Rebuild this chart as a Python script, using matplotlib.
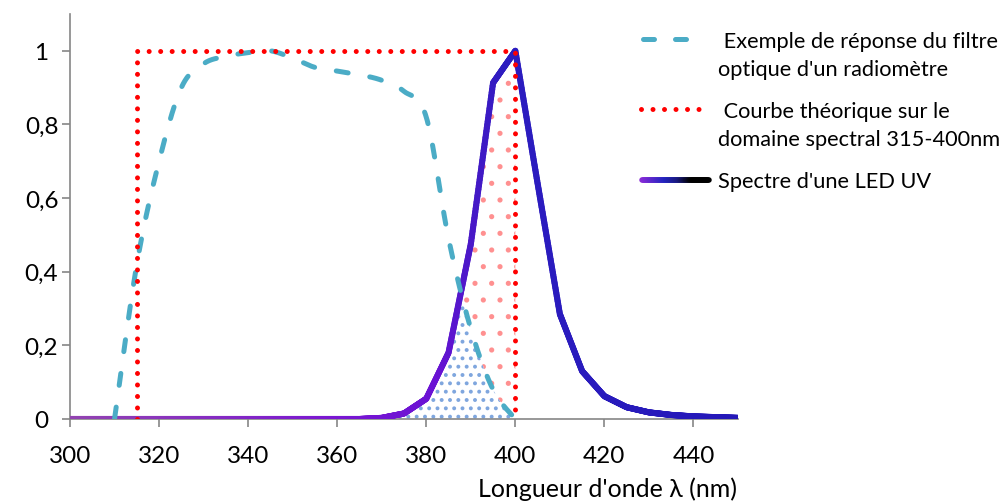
import numpy as np
import matplotlib
matplotlib.use("Agg")
import matplotlib.pyplot as plt
from matplotlib.collections import LineCollection
from matplotlib.colors import LinearSegmentedColormap
from matplotlib.lines import Line2D

plt.rcParams['font.family'] = ['Lato', 'DejaVu Sans']
plt.rcParams['hatch.linewidth'] = 1.6

# Radiometer filter response (nm, relative response)
filter_nm = [310, 315, 320, 325, 330, 335, 340, 345, 350, 355, 360, 365,
             370, 375, 380, 385, 390, 395, 400]
filter_resp = [0.0, 0.42, 0.70, 0.90, 0.965, 0.985, 0.995, 1.0, 0.98, 0.955,
               0.945, 0.935, 0.92, 0.89, 0.82, 0.49, 0.245, 0.08, 0.0]

# Ideal response over the 315-400 nm band
theory_nm = [315, 315, 400, 400]
theory_resp = [0, 1, 1, 0]

# UV LED emission spectrum
led_nm = [300, 305, 310, 315, 320, 325, 330, 335, 340, 345, 350, 355, 360,
          365, 370, 375, 380, 385, 390, 395, 400, 405, 410, 415, 420, 425,
          430, 435, 440, 445, 450]
led_resp = [0, 0, 0, 0, 0, 0, 0, 0, 0, 0, 0, 0, 0,
            0, 0.003, 0.015, 0.055, 0.18, 0.475, 0.913, 1.0, 0.64, 0.285,
            0.13, 0.062, 0.032, 0.018, 0.011, 0.007, 0.005, 0.003]

x_ticks = [300, 320, 340, 360, 380, 400, 420, 440]
y_ticks = [0, 0.2, 0.4, 0.6, 0.8, 1.0]
y_tick_labels = ['0', '0,2', '0,4', '0,6', '0,8', '1']

legend_lines = [[" Exemple de réponse du filtre", "optique d'un radiomètre"],
                [" Courbe théorique sur le", "domaine spectral 315-400nm"],
                ["Spectre d'une LED UV"]]
x_label = "Longueur d'onde λ (nm)"

FILTER_COLOR = '#4BACC6'
THEORY_COLOR = '#FF0000'
AXIS_COLOR = '#868686'


def smooth_curve(xs, ys, steps=24):
    """Cubic Bezier smoothing through the points (spreadsheet-style)."""
    p = np.column_stack([xs, ys]).astype(float)
    n = len(p)
    out = [p[0]]
    t = np.linspace(0, 1, steps + 1)[1:, None]
    for i in range(n - 1):
        p0 = p[i - 1] if i > 0 else p[i]
        p3 = p[i + 2] if i + 2 < n else p[i + 1]
        c1 = p[i] + (p[i + 1] - p0) / 6.0
        c2 = p[i + 1] - (p3 - p[i]) / 6.0
        seg = ((1 - t) ** 3) * p[i] + 3 * ((1 - t) ** 2) * t * c1 \
            + 3 * (1 - t) * t ** 2 * c2 + t ** 3 * p[i + 1]
        out.extend(seg)
    out = np.array(out)
    return out[:, 0], out[:, 1]


W, H = 1005, 502
fig = plt.figure(figsize=(W / 100, H / 100), dpi=100)
ax = fig.add_axes([70 / W, 1 - 420 / H, 668 / W, 405 / H])
ax.set_xlim(300, 450)
ax.set_ylim(0, 1.1)

# Smoothed filter curve
fx, fy = smooth_curve(filter_nm, filter_resp)
fy = np.clip(fy, 0, None)

# Hatched overlap areas
xs = np.linspace(370, 400, 400)
f_on = np.interp(xs, fx, fy)
l_on = np.interp(xs, led_nm, led_resp)
ax.fill_between(xs, 0, np.minimum(f_on, l_on), facecolor='none',
                edgecolor='#7FA6DE', linewidth=0, hatch='..', zorder=1)
with plt.rc_context({'hatch.linewidth': 1.3}):
    ax.fill_between(xs, f_on, l_on, where=l_on > f_on, interpolate=True,
                    facecolor='none', edgecolor='#FF9090', linewidth=0,
                    hatch='.', zorder=1)

# LED spectrum with a violet-to-blue colour ramp
led_cmap = LinearSegmentedColormap.from_list(
    'led', [(0.0, '#9244B0'), (0.4, '#7A16D2'), (0.55, '#6A12D4'),
            (0.6, '#4A18C8'), (0.65, '#2C1CC0'), (1.0, '#2418B8')])
lx = np.linspace(300, 450, 1501)
ly = np.interp(lx, led_nm, led_resp)
pts = np.column_stack([lx, ly]).reshape(-1, 1, 2)
segs = np.concatenate([pts[:-1], pts[1:]], axis=1)
lc = LineCollection(segs, cmap=led_cmap, linewidths=4.4, capstyle='round',
                    joinstyle='round', zorder=3)
lc.set_array((lx[:-1] - 300) / 150)
lc.set_clim(0, 1)
ax.add_collection(lc)

ax.plot(fx, fy, color=FILTER_COLOR, lw=3.6, linestyle=(0, (2.4, 4.4)),
        dash_capstyle='round', zorder=4)
ax.plot(theory_nm, theory_resp, color=THEORY_COLOR, lw=3.6,
        linestyle=(0, (0.001, 2.3)), dash_capstyle='round', zorder=5)

# Axes styling
for side in ('top', 'right'):
    ax.spines[side].set_visible(False)
for side in ('left', 'bottom'):
    ax.spines[side].set_color(AXIS_COLOR)
    ax.spines[side].set_linewidth(1.2)
ax.set_xticks(x_ticks)
ax.set_yticks(y_ticks)
ax.set_yticklabels(y_tick_labels)
ax.tick_params(axis='both', direction='out', length=5.5, width=1.2,
               color=AXIS_COLOR, labelsize=17.5, labelcolor='black')
ax.tick_params(axis='x', pad=13)
ax.tick_params(axis='y', pad=15)
for lbl in ax.get_yticklabels():
    lbl.set_horizontalalignment('center')

fig.text(737 / W, 1 - 497 / H, x_label, ha='right', va='baseline',
         fontsize=18)


# Legend drawn in figure pixels
def fx_(px):
    return px / W


def fy_(py):
    return 1 - py / H


fig.add_artist(Line2D([fx_(643), fx_(697)], [fy_(40), fy_(40)],
                      color=FILTER_COLOR, lw=3.6, linestyle=(0, (2.2, 4.2)),
                      dash_capstyle='round'))
fig.add_artist(Line2D([fx_(641), fx_(702)], [fy_(110), fy_(110)],
                      color=THEORY_COLOR, lw=3.6,
                      linestyle=(0, (0.001, 2.3)), dash_capstyle='round'))
gx = np.linspace(642, 709, 120)
gpts = np.column_stack([gx / W, np.full_like(gx, fy_(181))]).reshape(-1, 1, 2)
gsegs = np.concatenate([gpts[:-1], gpts[1:]], axis=1)
legend_cmap = LinearSegmentedColormap.from_list(
    'ledlegend', [(0.0, '#8A2BD8'), (0.35, '#2424C0'), (0.55, '#1A1A80'),
                  (0.75, '#000000'), (1.0, '#000000')])
glc = LineCollection(gsegs, cmap=legend_cmap, linewidths=4.0,
                     capstyle='round', transform=fig.transFigure)
glc.set_array(np.linspace(0, 1, len(gsegs)))
fig.add_artist(glc)

for lines, base in zip(legend_lines, [48, 118, 188]):
    for k, line in enumerate(lines):
        fig.text(fx_(718), fy_(base + 28 * k), line, ha='left',
                 va='baseline', fontsize=15.7)

fig.savefig('out.png', dpi=100)
